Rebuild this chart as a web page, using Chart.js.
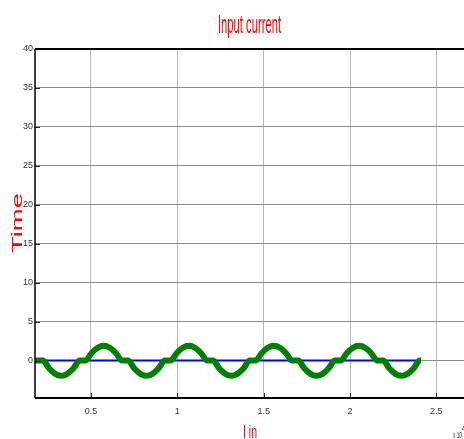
<!DOCTYPE html>
<html>
<head>
<meta charset="utf-8">
<script src="https://cdn.jsdelivr.net/npm/chart.js@4/dist/chart.umd.min.js"></script>
<style>
  html, body { margin: 0; padding: 0; background: #fff; }
  canvas { display: block; }
</style>
</head>
<body>
<canvas id="currentChart" width="464" height="439"></canvas>
<script>
// values (x axis is scaled by x10^n in the original)
const currentX = [0.176,
    0.222, 0.257, 0.293, 0.328, 0.363, 0.399, 0.434,
    0.468, 0.503, 0.539, 0.574, 0.609, 0.645, 0.680,
    0.715, 0.750, 0.786, 0.821, 0.856, 0.892, 0.927,
    0.961, 0.996, 1.032, 1.067, 1.102, 1.138, 1.173,
    1.207, 1.242, 1.278, 1.313, 1.348, 1.384, 1.419,
    1.453, 1.488, 1.524, 1.559, 1.594, 1.630, 1.665,
    1.700, 1.735, 1.771, 1.806, 1.841, 1.877, 1.912,
    1.946, 1.981, 2.017, 2.052, 2.087, 2.123, 2.158,
    2.192, 2.227, 2.263, 2.298, 2.333, 2.369, 2.404,
    2.41];
const currentY = [0,
    0, -0.98, -1.7, -1.95, -1.7, -0.98, 0,
    0, 0.95, 1.65, 1.9, 1.65, 0.95, 0,
    0, -0.98, -1.7, -1.95, -1.7, -0.98, 0,
    0, 0.95, 1.65, 1.9, 1.65, 0.95, 0,
    0, -0.98, -1.7, -1.95, -1.7, -0.98, 0,
    0, 0.95, 1.65, 1.9, 1.65, 0.95, 0,
    0, -0.98, -1.7, -1.95, -1.7, -0.98, 0,
    0, 0.95, 1.65, 1.9, 1.65, 0.95, 0,
    0, -0.98, -1.7, -1.95, -1.7, -0.98, 0,
    0];
const baseX = [0.176, 2.41];
const baseY = [0, 0];
const xTicks = [0.5, 1, 1.5, 2, 2.5];
const yTicks = [0, 5, 10, 15, 20, 25, 30, 35, 40];

const titleText = 'Input current';
const xTitle = 'I in';
const yTitle = 'Time';
const tickFont = "'Liberation Sans Narrow', 'Liberation Sans', sans-serif";

function squeezeText(ctx, text, x, y, size, width, color, rot, align) {
    ctx.save();
    ctx.font = size + "px 'Liberation Sans', Arial, sans-serif";
    const w = ctx.measureText(text).width;
    ctx.translate(x, y);
    if (rot) ctx.rotate(rot);
    ctx.scale(width / w, 1);
    ctx.textAlign = align || 'center';
    ctx.textBaseline = 'alphabetic';
    ctx.fillStyle = color;
    ctx.fillText(text, 0, 0);
    ctx.restore();
}

const frame = {
    id: 'frame',
    afterDraw(chart) {
        const ctx = chart.ctx;
        const a = chart.chartArea;
        const xs = chart.scales.x, ys = chart.scales.y;
        ctx.save();
        // inward tick marks
        ctx.strokeStyle = '#222';
        ctx.lineWidth = 1;
        ctx.beginPath();
        ys.ticks.forEach(t => {
            const py = Math.round(ys.getPixelForValue(t.value)) + 0.5;
            ctx.moveTo(a.left, py); ctx.lineTo(a.left + 5, py);
        });
        xs.ticks.forEach(t => {
            const px = Math.round(xs.getPixelForValue(t.value)) + 0.5;
            ctx.moveTo(px, a.bottom); ctx.lineTo(px, a.bottom - 5);
        });
        ctx.stroke();
        // box
        ctx.strokeStyle = '#000';
        ctx.lineWidth = 2;
        ctx.beginPath();
        ctx.moveTo(a.left, a.top); ctx.lineTo(a.right, a.top);
        ctx.moveTo(a.left, a.bottom); ctx.lineTo(a.right, a.bottom);
        ctx.stroke();
        ctx.lineWidth = 1.5;
        ctx.beginPath();
        ctx.moveTo(a.left, a.top); ctx.lineTo(a.left, a.bottom);
        ctx.stroke();
        ctx.restore();

        squeezeText(ctx, titleText, 249.5, 33, 26, 63, '#ff0000');
        squeezeText(ctx, yTitle, 22, 223, 14, 60, '#ff0000', -Math.PI / 2);
        squeezeText(ctx, xTitle, 250, 438, 19, 14, '#ff0000');
        squeezeText(ctx, 'x 10', 453, 438, 9, 9, '#333', 0, 'left');
        squeezeText(ctx, '4', 462, 431, 7, 3, '#333', 0, 'left');
    }
};

const ctx1 = document.getElementById('currentChart').getContext('2d');
new Chart(ctx1, {
    type: 'line',
    data: {
        datasets: [{
            data: currentX.map((x, i) => ({ x: x, y: currentY[i] })),
            borderColor: '#007f00',
            borderWidth: 6,
            pointRadius: 0,
            cubicInterpolationMode: 'monotone',
            fill: false
        }, {
            data: baseX.map((x, i) => ({ x: x, y: baseY[i] })),
            borderColor: '#0000ff',
            borderWidth: 2,
            pointRadius: 0,
            fill: false
        }]
    },
    options: {
        responsive: false,
        animation: false,
        layout: { padding: { top: 49, right: 0, left: 0, bottom: 0 } },
        plugins: { legend: { display: false }, tooltip: { enabled: false }, title: { display: false } },
        scales: {
            x: {
                type: 'linear',
                min: 0.176,
                max: 2.66,
                afterBuildTicks: s => { s.ticks = xTicks.map(v => ({ value: v })); },
                afterFit: s => { s.height = 41; },
                grid: { color: '#b8b8b8', drawTicks: false },
                border: { display: false },
                ticks: { font: { family: tickFont, size: 9 }, color: '#333', padding: 8, maxRotation: 0, callback: v => String(v) }
            },
            y: {
                min: -4.8,
                max: 40,
                afterBuildTicks: s => { s.ticks = yTicks.map(v => ({ value: v })); },
                afterFit: s => { s.width = 35; },
                grid: { color: '#8c8c8c', drawTicks: false },
                border: { display: false },
                ticks: { font: { family: tickFont, size: 9 }, color: '#333', padding: 2 }
            }
        }
    },
    plugins: [frame]
});
</script>
</body>
</html>
